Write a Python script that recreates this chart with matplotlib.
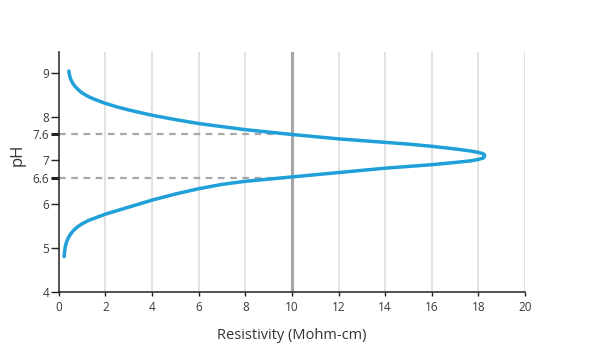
import numpy as np
import matplotlib
matplotlib.use('Agg')
import matplotlib.pyplot as plt

plt.rcParams['font.family'] = ['Open Sans', 'DejaVu Sans']

# Dados: ramo inferior (pH < 7.1) e ramo superior (pH > 7.1)
r_inferior = [0.23, 0.25, 0.28, 0.33, 0.40, 0.50, 0.62, 0.78, 0.97, 1.25, 1.55, 2.0, 2.5,
              3.0, 3.5, 4.0, 5.0, 6.0, 7.0, 8.0, 9.0, 10.0, 11.0, 12.0, 13.0, 14.0,
              15.0, 16.0, 17.0, 17.7, 18.0, 18.2]
ph_inferior = [4.80, 4.92, 5.03, 5.13, 5.22, 5.31, 5.39, 5.47, 5.54, 5.62, 5.68, 5.77, 5.85,
               5.93, 6.01, 6.09, 6.23, 6.35, 6.45, 6.52, 6.57, 6.62, 6.67, 6.72, 6.77, 6.82,
               6.86, 6.90, 6.95, 6.99, 7.02, 7.05]

r_pico = [18.25, 18.27, 18.25]
ph_pico = [7.08, 7.105, 7.13]

r_superior = [18.2, 18.0, 17.7, 17.0, 16.0, 15.0, 14.0, 13.0, 12.0, 11.0, 10.0, 9.0, 8.0,
              7.0, 6.0, 5.0, 4.0, 3.5, 3.0, 2.5, 2.0, 1.55, 1.25, 0.97, 0.78, 0.62, 0.52,
              0.46, 0.43]
ph_superior = [7.15, 7.18, 7.21, 7.26, 7.32, 7.37, 7.41, 7.45, 7.49, 7.54, 7.59, 7.645, 7.70,
               7.77, 7.84, 7.93, 8.03, 8.09, 8.15, 8.22, 8.30, 8.39, 8.46, 8.55, 8.64, 8.74,
               8.84, 8.94, 9.04]

# Linhas de referencia (10 Mohm-cm)
ph_ref = [7.6, 6.6]
r_ref = 10

x_ticks = list(range(0, 21, 2))
y_ticks = [4, 5, 6, 6.6, 7, 7.6, 8, 9]
y_labels = ['4', '5', '6', '6.6', '7', '7.6', '8', '9']

r = r_inferior + r_pico + r_superior
ph = ph_inferior + ph_pico + ph_superior

fig = plt.figure(figsize=(6, 3.6), dpi=100)
ax = fig.add_axes([0.098, 0.19, 0.777, 0.665])

# Grade vertical
for xv in x_ticks[1:]:
    if xv == 10:
        ax.axvline(xv, color='#a6a6a6', lw=2.2, zorder=1)
    else:
        ax.axvline(xv, color='#dadada', lw=1.1, zorder=1)

# Linhas tracejadas
for p in ph_ref:
    ax.plot([0, r_ref], [p, p], color='#a8a8a8', lw=1.6, ls=(0, (3, 2.5)), zorder=2)

ax.plot(r, ph, color='#1fa0d9', lw=2.5, solid_capstyle='round',
        solid_joinstyle='round', zorder=3)

ax.set_xlim(0, 20)
ax.set_ylim(4, 9.47)
ax.set_xticks(x_ticks)
ax.set_yticks(y_ticks)
ax.set_yticklabels(y_labels)

for s in ['top', 'right']:
    ax.spines[s].set_visible(False)
for s in ['left', 'bottom']:
    ax.spines[s].set_color('#222222')
    ax.spines[s].set_linewidth(1.1)

ax.tick_params(axis='both', colors='#222222', labelcolor='#3a3a3a', labelsize=8.5,
               length=5.5, width=1.0, pad=1.5)
ax.tick_params(axis='x', length=3, pad=4, labelsize=8.5)
for t in ax.yaxis.get_major_ticks():
    if t.get_loc() in (6.6, 7.6):
        t.tick1line.set_markeredgewidth(2.2)

ax.set_xlabel('Resistivity (Mohm-cm)', fontsize=10.5, color='#333333', labelpad=10)
ax.set_ylabel('pH', fontsize=12, color='#333333')
ax.yaxis.set_label_coords(-0.072, 0.57)

fig.savefig('out.png', dpi=100)
